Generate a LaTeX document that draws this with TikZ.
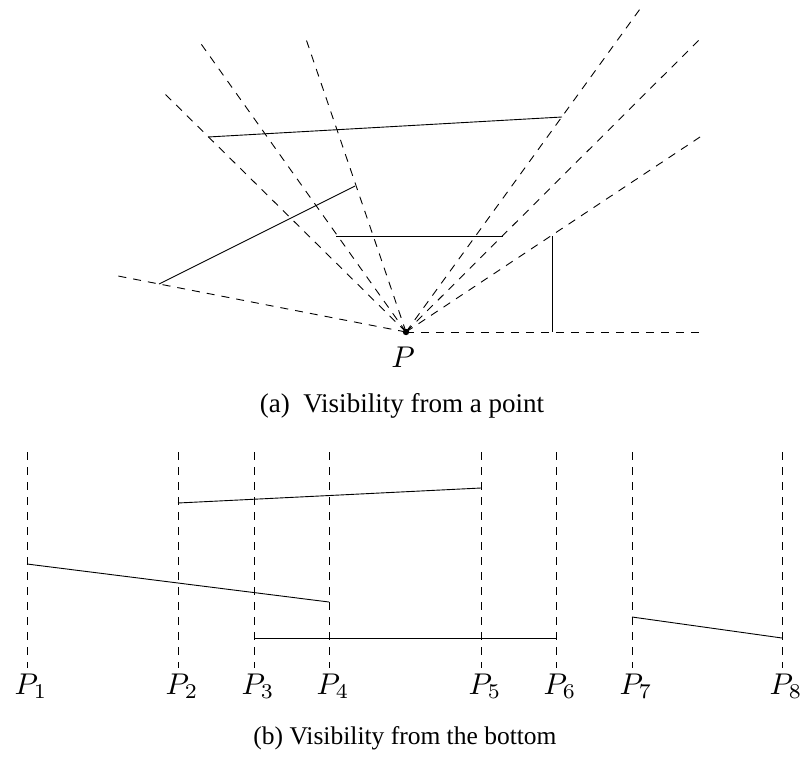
\documentclass[tikz,border=0pt]{standalone}
\usepackage{fontspec}
\newfontfamily\capfont{Liberation Serif}
\tikzset{
  ray/.style={draw, line width=0.9pt, dash pattern=on 8pt off 7pt},
  seg/.style={draw, line width=0.9pt},
  plabel/.style={font=\normalsize, scale=3, inner sep=0pt},
  captext/.style={font=\capfont\normalsize, scale=2.55, inner sep=0pt}
}
\begin{document}
\begin{tikzpicture}[x=1pt,y=-1pt]
\useasboundingbox (0,0) rectangle (800,774);
% ---------- (a) ----------
\coordinate (P) at (406,332);
\coordinate (r1) at (116,275.6);
\coordinate (r2) at (163,92);
\coordinate (r3) at (199,41);
\coordinate (r4) at (306,39);
\coordinate (r5) at (700,39);
\coordinate (r6) at (640,9);
\coordinate (r7) at (700,137);
\coordinate (r8) at (700,332);
\foreach \r in {r1,r2,r3,r4,r5,r6,r7,r8} \draw[ray] (P) -- (\r);
% segments
\coordinate (a1) at (208,137);
\coordinate (a2) at (562,117);
\coordinate (b1) at (159,284);
\coordinate (b2) at (355,186);
\coordinate (c1) at (336,236);
\coordinate (c2) at (503,236);
\coordinate (d1) at (552,236);
\coordinate (d2) at (552,332);
\draw[seg] (a1) -- (a2);
\draw[seg] (b1) -- (b2);
\draw[seg] (c1) -- (c2);
\draw[seg] (d1) -- (d2);
\fill (P) circle (3.2);
\node[plabel, anchor=north] (Plab) at (403,346) {$P$};
\node[captext, scale=1.06] (capa) at (402,406) {(a)\hspace{0.5em}Visibility from a point};
% ---------- (b) ----------
\foreach \i/\x in {1/27,2/178,3/254,4/329,5/481,6/556,7/632,8/782}{
  \coordinate (t\i) at (\x,452);
  \coordinate (u\i) at (\x,668);
  \draw[ray] (t\i) -- (u\i);
  \node[plabel, anchor=north] (L\i) at (\x+4,673) {$P_{\i}$};
}
\coordinate (s1) at (178,503);
\coordinate (s2) at (481,488);
\coordinate (s3) at (27,564);
\coordinate (s4) at (329,602);
\coordinate (s5) at (254,638);
\coordinate (s6) at (556,638);
\coordinate (s7) at (632,617);
\coordinate (s8) at (782,638);
\draw[seg] (s1) -- (s2);
\draw[seg] (s3) -- (s4);
\draw[seg] (s5) -- (s6);
\draw[seg] (s7) -- (s8);
\node[captext] (capb) at (405,738) {(b) Visibility from the bottom};
\end{tikzpicture}
\end{document}
